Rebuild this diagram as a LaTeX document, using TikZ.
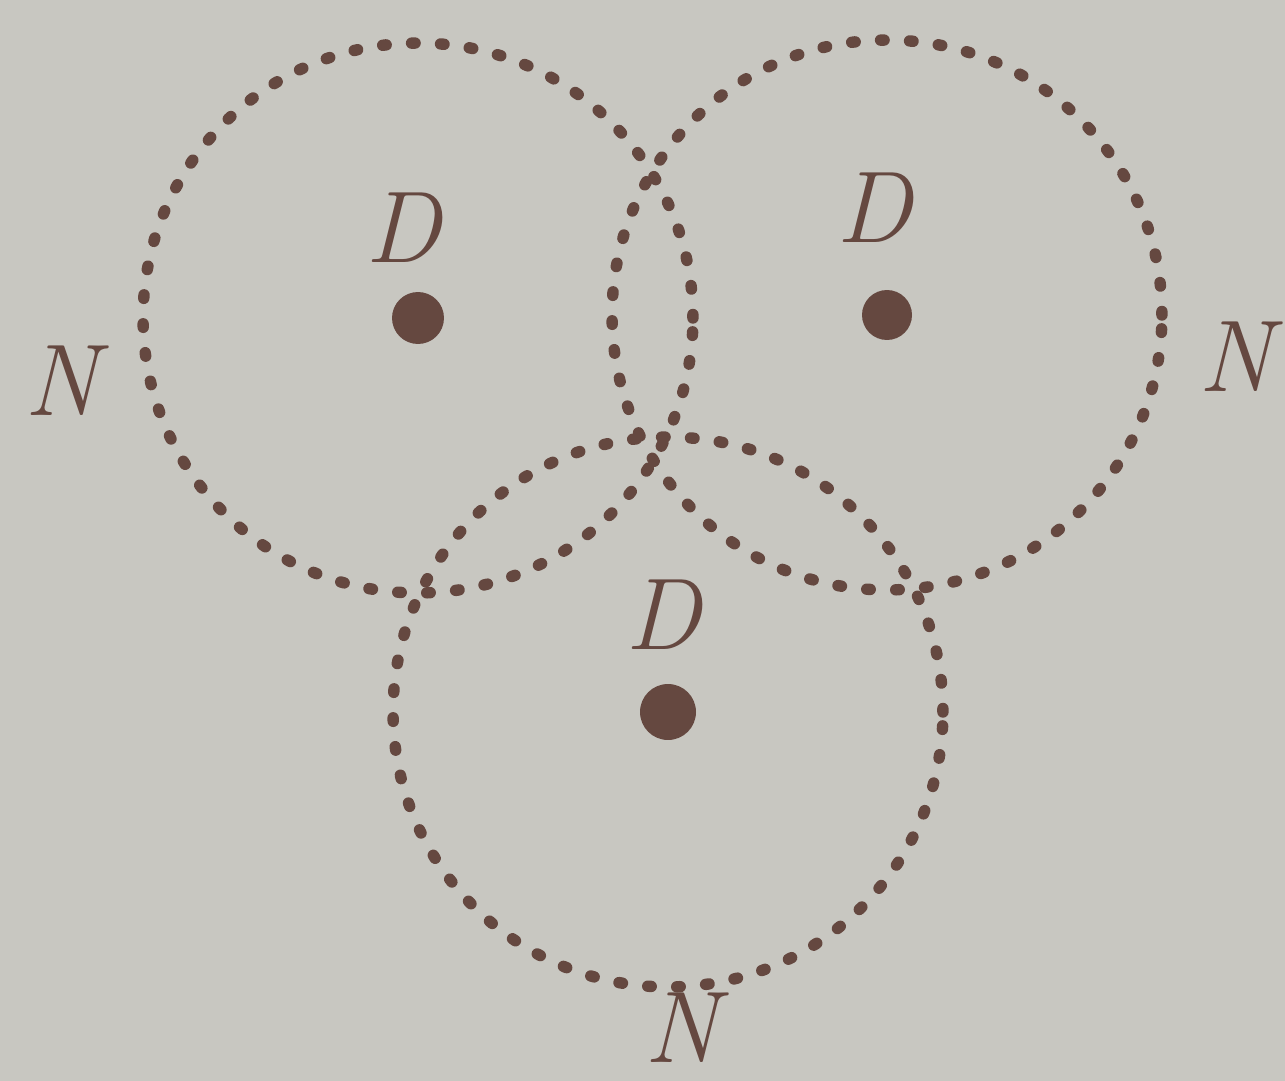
\documentclass[tikz,border=0pt]{standalone}
\usepackage{xcolor}
\usetikzlibrary{positioning}
\definecolor{paper}{HTML}{C8C7C1}
\definecolor{ink}{HTML}{654840}

\begin{document}
\begin{tikzpicture}[x=0.02cm, y=-0.02cm,
      every node/.style={font=\fontsize{58}{60}\selectfont\itshape, text=ink},
      ring/.style={draw=ink, line width=6.5pt, line cap=round, dash pattern=on 2pt off 14.5pt},
      centre/.style={fill=ink},
      lbl/.style={inner sep=0pt}]
    \fill[paper] (0,0) rectangle (1285,1081);
    \useasboundingbox (0,0) rectangle (1285,1081);
    % centres of the three circles
    \coordinate (cl) at (418,318);
    \coordinate (cr) at (887,315);
    \coordinate (cb) at (668,712);
    \draw[ring] (cl) circle[radius=5.5cm];
    \draw[ring] (cr) circle[radius=5.5cm];
    \draw[ring] (cb) circle[radius=5.5cm];
    \fill[centre] (cl) circle[radius=0.52cm];
    \fill[centre] (cr) circle[radius=0.5cm];
    \fill[centre] (cb) circle[radius=0.56cm];
    \node[lbl, above=1.1cm of cl, xshift=-0.3cm] (dl) {D};
    \node[lbl, above=1.45cm of cr, xshift=-0.25cm] (dr) {D};
    \node[lbl, above=1.25cm of cb, xshift=-0.1cm] (db) {D};
    \node[lbl] (nl) at (62,381) {N};
    \node[lbl] (nr) at (1236,357) {N};
    \node[lbl] (nb) at (682,1028) {N};
  \end{tikzpicture}
\end{document}
